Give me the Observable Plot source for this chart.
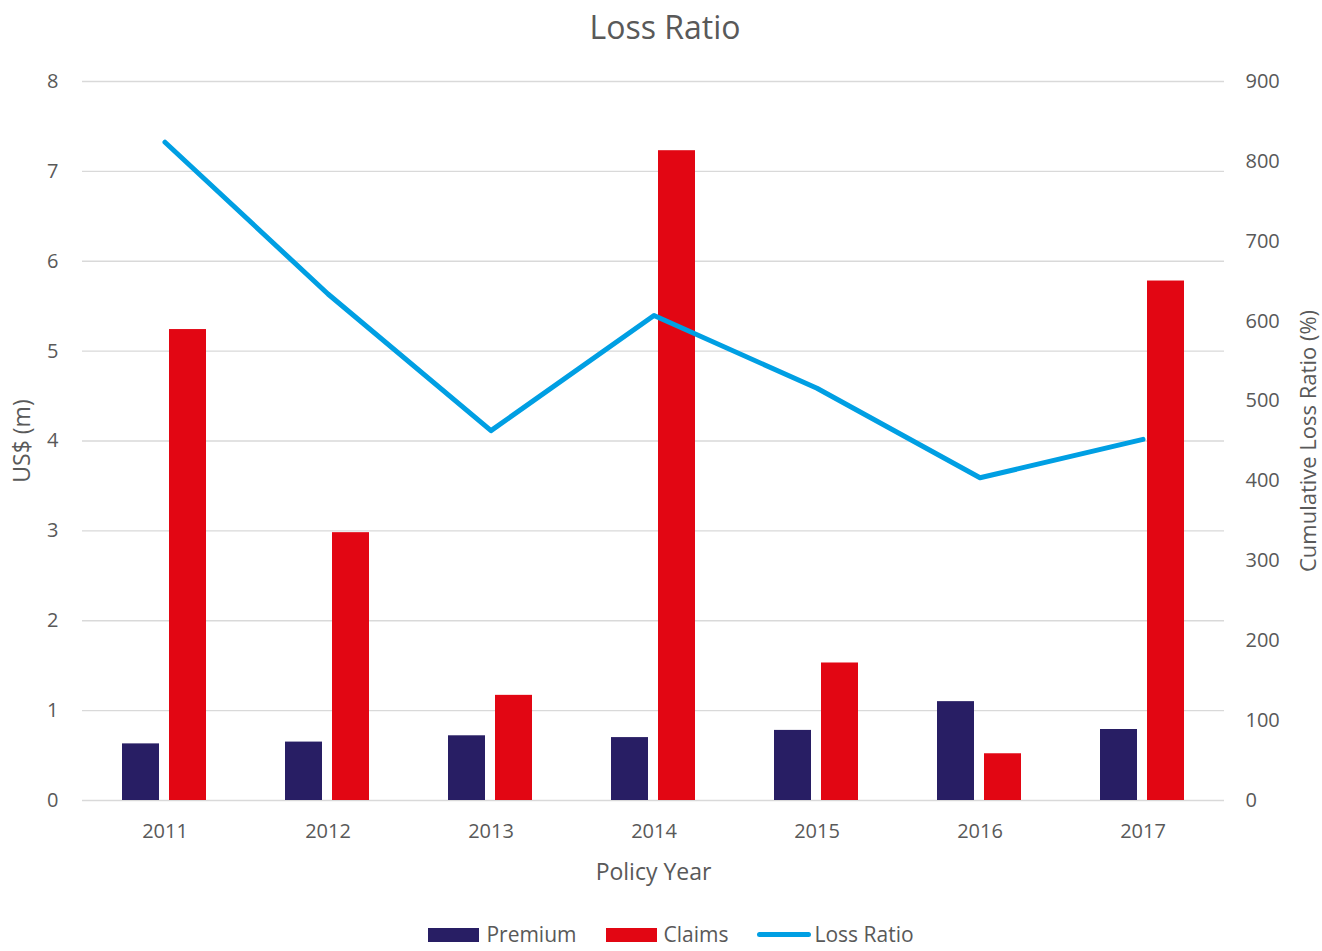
<!DOCTYPE html>
<html>
<head>
<meta charset="utf-8">
<script src="https://cdn.jsdelivr.net/npm/d3@7"></script>
<script src="https://cdn.jsdelivr.net/npm/@observablehq/plot@0.6"></script>
<style>
  body { margin: 0; background: #fff; font-family: "Open Sans", sans-serif; color: #595959; }
  #title { height: 54px; line-height: 54px; text-align: center; font-size: 32px; padding-left: 8px; }
  #chart svg { display: block; }
  #legend { display: flex; justify-content: center; align-items: center; gap: 29px; margin-top: 24px; font-size: 21px; line-height: 21px; height: 21px; padding-left: 20px; }
  .item { display: flex; align-items: center; gap: 7px; }
  .item.line { gap: 3px; }
  .sw { width: 51px; height: 14px; }
  .ln { width: 54px; height: 5px; border-radius: 3px; }
</style>
</head>
<body>
<div id="title">Loss Ratio</div>
<div id="chart"></div>
<div id="legend"></div>
<script>
const years = ["2011", "2012", "2013", "2014", "2015", "2016", "2017"];
const premium = [0.63, 0.65, 0.72, 0.70, 0.78, 1.10, 0.79];
const claims = [5.24, 2.98, 1.17, 7.23, 1.53, 0.52, 5.78];
const lossRatio = [824, 634, 463, 607, 516, 404, 452];
const leftTicks = [0, 1, 2, 3, 4, 5, 6, 7, 8];
const rightTicks = [0, 100, 200, 300, 400, 500, 600, 700, 800, 900];

const colors = { premium: "#281e64", claims: "#e20613", loss: "#009fe3" };
const k = 8 / 900;

const rows = years.map((year, i) => ({ year, premium: premium[i], claims: claims[i], loss: lossRatio[i] }));

const chart = Plot.plot({
  width: 1322,
  height: 846,
  marginLeft: 82,
  marginRight: 98,
  marginTop: 27,
  marginBottom: 100,
  style: { fontFamily: "'Open Sans', sans-serif", fontSize: "20px", color: "#595959", background: "white" },
  x: { type: "band", domain: years, padding: 0 },
  y: { domain: [0, 8] },
  marks: [
    Plot.ruleY(leftTicks, { stroke: "#d9d9d9", strokeWidth: 1.3 }),
    Plot.barY(rows, { x: "year", y: "premium", fill: colors.premium, insetLeft: 39, insetRight: 87 }),
    Plot.barY(rows, { x: "year", y: "claims", fill: colors.claims, insetLeft: 86, insetRight: 40 }),
    Plot.line(rows, { x: "year", y: d => d.loss * k, stroke: colors.loss, strokeWidth: 5, strokeLinecap: "round", strokeLinejoin: "round" }),
    Plot.axisY({ anchor: "left", ticks: leftTicks, tickSize: 0, tickPadding: 24, label: null }),
    Plot.axisY({ anchor: "right", ticks: rightTicks.map(v => v * k), tickFormat: v => String(Math.round(v / k)), tickSize: 0, tickPadding: 21, label: null }),
    Plot.axisX({ tickSize: 0, tickPadding: 23, label: null }),
    Plot.text(["US$ (m)"], { frameAnchor: "left", rotate: -90, dx: -60, textAnchor: "middle", lineAnchor: "middle", fontSize: 23, fill: "#595959" }),
    Plot.text(["Cumulative Loss Ratio (%)"], { frameAnchor: "right", rotate: -90, dx: 84, textAnchor: "middle", lineAnchor: "middle", fontSize: 22, fill: "#595959" }),
    Plot.text(["Policy Year"], { frameAnchor: "bottom", dy: 72, textAnchor: "middle", lineAnchor: "middle", fontSize: 23, fill: "#595959" })
  ]
});
document.getElementById("chart").appendChild(chart);

const legendItems = [
  { label: "Premium", color: colors.premium, kind: "sw" },
  { label: "Claims", color: colors.claims, kind: "sw" },
  { label: "Loss Ratio", color: colors.loss, kind: "ln" }
];
const legend = document.getElementById("legend");
for (const it of legendItems) {
  const d = document.createElement("div");
  d.className = it.kind === "ln" ? "item line" : "item";
  const s = document.createElement("span");
  s.className = it.kind;
  s.style.background = it.color;
  const t = document.createElement("span");
  t.textContent = it.label;
  d.appendChild(s); d.appendChild(t);
  legend.appendChild(d);
}
</script>
</body>
</html>
